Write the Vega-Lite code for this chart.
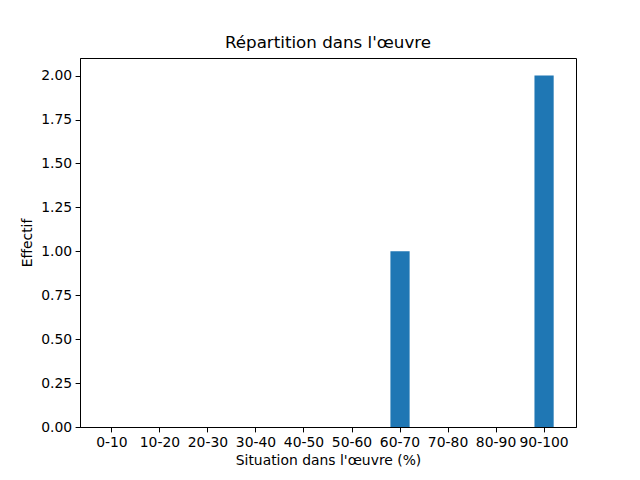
{
  "$schema": "https://vega.github.io/schema/vega-lite/v6.json",
  "width": 496,
  "height": 369,
  "autosize": {"type": "none"},
  "padding": {"left": 80, "top": 58, "right": 64, "bottom": 53},
  "background": "white",
  "title": {
    "text": "Répartition dans l'œuvre",
    "font": "DejaVu Sans",
    "fontSize": 16.7,
    "fontWeight": "normal",
    "color": "black",
    "anchor": "middle",
    "offset": 6
  },
  "config": {
    "view": {"stroke": "black", "strokeWidth": 1},
    "axis": {
      "labelFont": "DejaVu Sans",
      "labelFontSize": 13.9,
      "labelColor": "black",
      "titleFont": "DejaVu Sans",
      "titleFontSize": 13.9,
      "titleFontWeight": "normal",
      "titleColor": "black",
      "tickColor": "black",
      "tickSize": 4.9,
      "domainColor": "black",
      "grid": false,
      "labelPadding": 3.5
    }
  },
  "data": {
    "values": [
      {"tranche": "0-10", "effectif": 0},
      {"tranche": "10-20", "effectif": 0},
      {"tranche": "20-30", "effectif": 0},
      {"tranche": "30-40", "effectif": 0},
      {"tranche": "40-50", "effectif": 0},
      {"tranche": "50-60", "effectif": 0},
      {"tranche": "60-70", "effectif": 1},
      {"tranche": "70-80", "effectif": 0},
      {"tranche": "80-90", "effectif": 0},
      {"tranche": "90-100", "effectif": 2}
    ]
  },
  "mark": {"type": "bar", "color": "#1f77b4"},
  "encoding": {
    "x": {
      "field": "tranche",
      "type": "nominal",
      "sort": null,
      "scale": {"paddingInner": 0.6, "paddingOuter": 0.465},
      "axis": {"title": "Situation dans l'œuvre (%)", "labelAngle": 0, "titlePadding": 4}
    },
    "y": {
      "field": "effectif",
      "type": "quantitative",
      "scale": {"domain": [0, 2.1], "nice": false},
      "axis": {"title": "Effectif", "format": ".2f", "values": [0, 0.25, 0.5, 0.75, 1, 1.25, 1.5, 1.75, 2], "titlePadding": 6}
    }
  }
}
